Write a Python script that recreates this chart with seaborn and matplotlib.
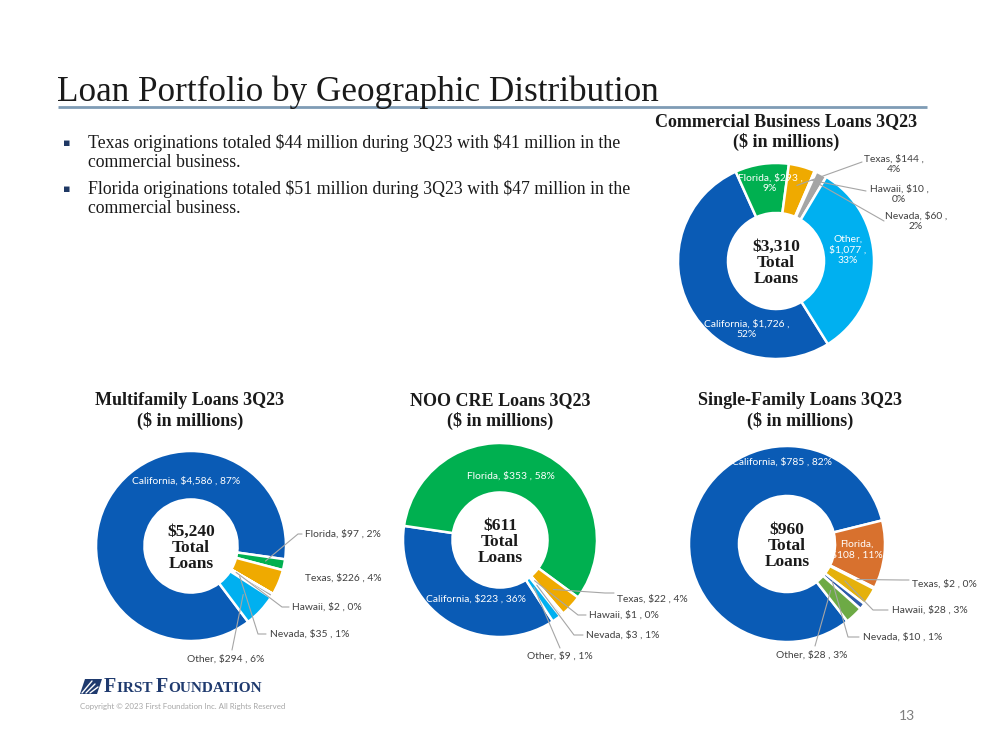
import matplotlib
matplotlib.use("Agg")
import matplotlib.pyplot as plt
import seaborn as sns
import numpy as np
from matplotlib.patches import Polygon

# ---------------- data ----------------
regions = ["California", "Florida", "Texas", "Hawaii", "Nevada", "Other"]

cb_values = [1726, 293, 144, 10, 60, 1077]
cb_pcts = [52, 9, 4, 0, 2, 33]
mf_values = [4586, 97, 226, 2, 35, 294]
mf_pcts = [87, 2, 4, 0, 1, 6]
noo_values = [223, 353, 22, 1, 3, 9]
noo_pcts = [36, 58, 4, 0, 1, 1]
sf_values = [785, 108, 2, 28, 10, 28]
sf_pcts = [82, 11, 0, 3, 1, 3]
totals = ["$3,310", "$5,240", "$611", "$960"]

chart_titles = ["Commercial Business Loans 3Q23", "Multifamily Loans 3Q23",
                "NOO CRE Loans 3Q23", "Single-Family Loans 3Q23"]
bullets = [
    "Texas originations totaled $44 million during 3Q23 with $41 million in the\ncommercial business.",
    "Florida originations totaled $51 million during 3Q23 with $47 million in the\ncommercial business.",
]

main_colors = ["#0A5BB5", "#00B050", "#EFAA00", "#FFFFFF", "#A5A5A5", "#00B0F0"]
sf_colors = ["#0A5BB5", "#D8712E", "#FFFFFF", "#E5B10B", "#2E5CA8", "#6DAA45"]

# ---------------- figure ----------------
sns.set_theme(style="white")
plt.rcParams['font.family'] = ['Lato', 'DejaVu Sans']
plt.rcParams['text.parse_math'] = False
W, H = 999, 750
fig = plt.figure(figsize=(W / 100, H / 100), dpi=100)
ax = fig.add_axes([0, 0, 1, 1])
ax.set_xlim(0, W)
ax.set_ylim(0, H)
ax.axis("off")

SERIF = ["Liberation Serif", "DejaVu Serif"]
LABEL_C = "#404040"
LINE_C = "#A6A6A6"


def Y(y):
    return H - y


def txt(x, y, s, **kw):
    return ax.text(x, Y(y), s, **kw)


# title + rule
txt(57, 92, "Loan Portfolio by Geographic Distribution", family=SERIF, fontsize=25.3,
    color="#1a1a1a", ha="left", va="center")
ax.plot([58, 927], [Y(107), Y(107)], color="#7F9CB5", lw=2, solid_capstyle="butt")

# bullets
for i, b in enumerate(bullets):
    yy = 143 + i * 46
    txt(63, yy, "\u25aa", fontsize=8, color="#1F3864", ha="left", va="center",
        family=["DejaVu Sans"])
    txt(88, yy - 9, b, family=SERIF, fontsize=12.8, color="#1a1a1a", ha="left",
        va="top", linespacing=1.13)


def donut(values, colors, cx, cy, R, start_cw):
    wedges, _ = ax.pie(values, colors=colors, startangle=90 - start_cw,
                       counterclock=False, radius=R, center=(cx, Y(cy)),
                       wedgeprops=dict(width=R * 0.51, edgecolor="white", linewidth=1.8),
                       frame=True)
    return wedges


def anchor(w, cx, cy, R, frac=0.75):
    th = np.deg2rad((w.theta1 + w.theta2) / 2)
    return cx + frac * R * np.cos(th), Y(cy) + frac * R * np.sin(th)


def leader(w, cx, cy, R, pts, frac=0.75):
    ax0, ay0 = anchor(w, cx, cy, R, frac)
    xs = [ax0] + [p[0] for p in pts]
    ys = [ay0] + [Y(p[1]) for p in pts]
    ax.plot(xs, ys, color=LINE_C, lw=0.8)


def center_text(cx, cy, total):
    txt(cx, cy + 2, f"{total}\nTotal\nLoans", family=SERIF, fontsize=12.5, weight="bold",
        color="#1a1a1a", ha="center", va="center", linespacing=1.02)


def ctitle(cx, y, t):
    txt(cx, y, t + "\n($ in millions)", family=SERIF, fontsize=13, weight="bold",
        color="#1a1a1a", ha="center", va="center", linespacing=1.15)


LFS = 7.4

# ---- Commercial Business ----
cx, cy, R = 776, 261, 98
w = donut(cb_values, main_colors, cx, cy, R, 148)
ctitle(786, 132, chart_titles[0])
center_text(cx, cy, totals[0])
v, p = cb_values, cb_pcts
txt(770, 183, f"Florida, ${v[1]:,} ,\n{p[1]}%", fontsize=LFS, color="white", ha="center", va="center")
txt(848, 250, f"Other,\n${v[5]:,} ,\n{p[5]}%", fontsize=LFS, color="white", ha="center", va="center")
txt(747, 329, f"California, ${v[0]:,} ,\n{p[0]}%", fontsize=LFS, color="white", ha="center", va="center")
txt(894, 164, f"Texas, ${v[2]} ,\n{p[2]}%", fontsize=LFS, color=LABEL_C, ha="center", va="center")
txt(899, 194, f"Hawaii, ${v[3]} ,\n{p[3]}%", fontsize=LFS, color=LABEL_C, ha="center", va="center")
txt(916, 221, f"Nevada, ${v[4]} ,\n{p[4]}%", fontsize=LFS, color=LABEL_C, ha="center", va="center")
leader(w[2], cx, cy, R, [(862, 162)], 0.8)
leader(w[3], cx, cy, R, [(866, 191)], 0.9)
leader(w[4], cx, cy, R, [(884, 221)], 0.9)

# ---- Multifamily ----
cx, cy, R = 191, 546, 95
w = donut(mf_values, main_colors, cx, cy, R, 143)
ctitle(190, 411, chart_titles[1])
center_text(cx, cy, totals[1])
v, p = mf_values, mf_pcts
txt(186, 481, f"California, ${v[0]:,} , {p[0]}%", fontsize=LFS, color="white", ha="center", va="center")
txt(305, 534, f"Florida, ${v[1]} , {p[1]}%", fontsize=LFS, color=LABEL_C, ha="left", va="center")
txt(305, 578, f"Texas, ${v[2]} , {p[2]}%", fontsize=LFS, color=LABEL_C, ha="left", va="center")
txt(292, 607, f"Hawaii, ${v[3]} , {p[3]}%", fontsize=LFS, color=LABEL_C, ha="left", va="center")
txt(270, 634, f"Nevada, ${v[4]} , {p[4]}%", fontsize=LFS, color=LABEL_C, ha="left", va="center")
txt(226, 659, f"Other, ${v[5]} , {p[5]}%", fontsize=LFS, color=LABEL_C, ha="center", va="center")
leader(w[1], cx, cy, R, [(298, 534), (302, 534)], 0.8)
leader(w[3], cx, cy, R, [(282, 607), (289, 607)], 0.55)
leader(w[4], cx, cy, R, [(258, 634), (266, 634)], 0.6)
leader(w[5], cx, cy, R, [(232, 650)], 0.75)

# ---- NOO CRE ----
cx, cy, R = 500, 540, 97
w = donut(noo_values, main_colors, cx, cy, R, 147)
ctitle(500, 411, chart_titles[2])
center_text(cx, cy, totals[2])
v, p = noo_values, noo_pcts
txt(511, 476, f"Florida, ${v[1]} , {p[1]}%", fontsize=LFS, color="white", ha="center", va="center")
txt(476, 599, f"California, ${v[0]} , {p[0]}%", fontsize=LFS, color="white", ha="center", va="center")
txt(617, 599, f"Texas, ${v[2]} , {p[2]}%", fontsize=LFS, color=LABEL_C, ha="left", va="center")
txt(589, 615, f"Hawaii, ${v[3]} , {p[3]}%", fontsize=LFS, color=LABEL_C, ha="left", va="center")
txt(586, 635, f"Nevada, ${v[4]} , {p[4]}%", fontsize=LFS, color=LABEL_C, ha="left", va="center")
txt(560, 656, f"Other, ${v[5]} , {p[5]}%", fontsize=LFS, color=LABEL_C, ha="center", va="center")
leader(w[2], cx, cy, R, [(605, 593), (614, 593)], 0.75)
leader(w[3], cx, cy, R, [(578, 615), (586, 615)], 0.55)
leader(w[4], cx, cy, R, [(574, 635), (583, 635)], 0.6)
leader(w[5], cx, cy, R, [(560, 648)], 0.6)

# ---- Single-Family ----
cx, cy, R = 787, 544, 98
w = donut(sf_values, sf_colors, cx, cy, R, 142)
ctitle(800, 411, chart_titles[3])
center_text(cx, cy, totals[3])
v, p = sf_values, sf_pcts
txt(782, 462, f"California, ${v[0]} , {p[0]}%", fontsize=LFS, color="white", ha="center", va="center")
txt(857, 550, f"Florida,\n${v[1]} , {p[1]}%", fontsize=LFS, color="white", ha="center", va="center")
txt(912, 584, f"Texas, ${v[2]} , {p[2]}%", fontsize=LFS, color=LABEL_C, ha="left", va="center")
txt(892, 610, f"Hawaii, ${v[3]} , {p[3]}%", fontsize=LFS, color=LABEL_C, ha="left", va="center")
txt(863, 637, f"Nevada, ${v[4]} , {p[4]}%", fontsize=LFS, color=LABEL_C, ha="left", va="center")
txt(812, 655, f"Other, ${v[5]} , {p[5]}%", fontsize=LFS, color=LABEL_C, ha="center", va="center")
leader(w[2], cx, cy, R, [(902, 580), (909, 580)], 0.8)
leader(w[3], cx, cy, R, [(873, 610), (888, 610)], 0.7)
leader(w[4], cx, cy, R, [(848, 637), (859, 637)], 0.6)
leader(w[5], cx, cy, R, [(815, 646)], 0.65)

# ---- footer / logo ----
NAVY = "#1F3A6E"
logo = Polygon([[85, Y(679)], [102, Y(679)], [97, Y(694)], [80, Y(694)]], closed=True,
               facecolor=NAVY, edgecolor="none")
ax.add_patch(logo)
for k in range(3):
    ax.plot([82 + k * 4, 92 + k * 3], [Y(693), Y(681 + k * 3)], color="white", lw=1.0)

renderer = fig.canvas.get_renderer()
inv = ax.transData.inverted()
xpos = 104
for piece, fs in [("F", 14.5), ("IRST ", 11), ("F", 14.5), ("OUNDATION", 11)]:
    t = txt(xpos, 692, piece, family=SERIF, fontsize=fs, weight="bold", color=NAVY,
            ha="left", va="baseline")
    bb = t.get_window_extent(renderer=renderer)
    xpos = inv.transform((bb.x1, bb.y0))[0] + 0.3

txt(80, 706, "Copyright \u00a9 2023 First Foundation Inc. All Rights Reserved", fontsize=5.7,
    color="#A6A6A6", ha="left", va="center")
txt(907, 716, "13", fontsize=10, color="#7F7F7F", ha="center", va="center")

ax.set_xlim(0, W)
ax.set_ylim(0, H)
fig.savefig("out.png", dpi=100, facecolor="white")
